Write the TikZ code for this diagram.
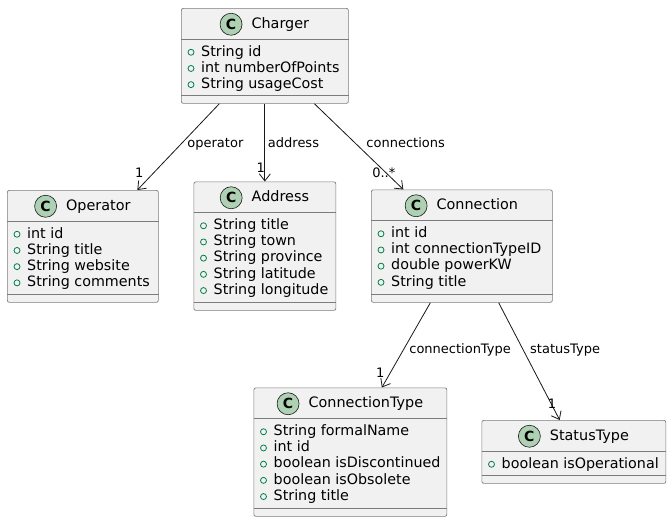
\documentclass[tikz,border=0pt]{standalone}
\usepackage{fontspec}
\setmainfont{DejaVu Sans}
\usetikzlibrary{arrows.meta, positioning}
\definecolor{umlfill}{HTML}{F1F1F1}
\definecolor{umlline}{HTML}{181818}
\definecolor{umlborder}{HTML}{7C7C7C}
\definecolor{iconfill}{HTML}{ADD1B2}
\definecolor{visgreen}{HTML}{038048}
\tikzset{x = 1pt, y = -1pt,
         >= {Straight Barb[length = 7pt, width = 11pt]},
         classbox/.style = {draw = umlborder, fill = umlfill, line width = 0.7pt,
                            rounded corners = 2pt, anchor = north west, inner sep = 0pt},
         classsep/.style = {draw = umlborder, line width = 0.7pt},
         classicon/.style = {circle, draw = umlline, fill = iconfill, line width = 0.6pt,
                             minimum size = 22pt, inner sep = 0pt,
                             font = \fontsize{14}{14}\selectfont\bfseries},
         classname/.style = {inner sep = 0pt, text height = 10.5pt, text depth = 3pt,
                             font = \fontsize{14.4}{16}\selectfont},
         attr/.style = {inner sep = 0pt, anchor = west, text height = 10.5pt, text depth = 3pt,
                        font = \fontsize{14.3}{16}\selectfont},
         vis/.style = {circle, draw = visgreen, line width = 0.8pt, minimum size = 6pt,
                       inner sep = 0pt},
         assoc/.style = {->, draw = umlline, line width = 0.8pt},
         role/.style = {inner sep = 0pt, anchor = west, text height = 9.5pt, text depth = 2.8pt,
                        font = \fontsize{13}{13}\selectfont},
         mult/.style = {inner sep = 0pt, font = \fontsize{13}{13}\selectfont}}

% id, top left, width, height, title, attributes
\newcommand{\umlclass}[6]{%
  \node[classbox, minimum width = #3pt, minimum height = #4pt] (#1) at #2 {};
  \draw[classsep] ([yshift = -31pt]#1.north west) -- ([yshift = -31pt]#1.north east);
  \draw[classsep] ([yshift = 8pt]#1.south west) -- ([yshift = 8pt]#1.south east);
  \node[classname] (#1-name) at ([xshift = 15.5pt, yshift = -16.25pt]#1.north) {#5};
  \node[classicon, left = 9pt of #1-name] (#1-icon) {C};
  \foreach \a [count = \i] in {#6} {
    \pgfmathsetmacro\ay{44.25 + (\i - 1)*16.2}
    \node[vis] (#1-v\i) at ([xshift = 10pt, yshift = -\ay pt]#1.north west) {};
    \node[attr] (#1-a\i) at ([xshift = 20pt, yshift = -\ay pt]#1.north west) {\a};
  }%
}

\begin{document}
\begin{tikzpicture}
  \useasboundingbox[fill = white] (0,0) rectangle (671,522);

  \umlclass{charger}{(181,8)}{167}{95}{Charger}
    {String id, int numberOfPoints, String usageCost}
  \umlclass{operator}{(7,190)}{151}{112}{Operator}
    {int id, String title, String website, String comments}
  \umlclass{address}{(193.5,181.5)}{142}{128.5}{Address}
    {String title, String town, String province, String latitude, String longitude}
  \umlclass{connection}{(371,189.5)}{181}{112.5}{Connection}
    {int id, int connectionTypeID, double powerKW, String title}
  \umlclass{conntype}{(253.5,387.5)}{193}{128.5}{ConnectionType}
    {String formalName, int id, boolean isDiscontinued, boolean isObsolete, String title}
  \umlclass{statustype}{(481.5,420)}{184}{63}{StatusType}
    {boolean isOperational}

  % associations
  \draw[assoc] ([xshift = -45.5pt]charger.south) -- ([xshift = 54.5pt]operator.north)
    node[role, pos = 0.471, xshift = 6.3pt] {operator}
    node[mult, at end, xshift = 2pt, yshift = 17.5pt] {1};
  \draw[assoc] ([xshift = 0pt]charger.south) -- ([xshift = 0pt]address.north)
    node[role, pos = 0.525, xshift = 2.7pt] {address}
    node[mult, at end, xshift = -4pt, yshift = 13.5pt] {1};
  \draw[assoc] ([xshift = 49.5pt]charger.south) -- ([xshift = -58.5pt]connection.north)
    node[role, pos = 0.476, xshift = 9.3pt] {connections}
    node[mult, at end, xshift = -19.5pt, yshift = 17pt] {0..*};
  \draw[assoc] ([xshift = -31.5pt]connection.south) -- ([xshift = 31.5pt]conntype.north)
    node[role, pos = 0.565, xshift = 6pt] {connectionType}
    node[mult, at end, xshift = -1.7pt, yshift = 15pt] {1};
  \draw[assoc] ([xshift = 36.8pt]connection.south) -- ([xshift = -14.2pt]statustype.north)
    node[role, pos = 0.407, xshift = 6.3pt] {statusType}
    node[mult, at end, xshift = -7.6pt, yshift = 16pt] {1};
\end{tikzpicture}
\end{document}
